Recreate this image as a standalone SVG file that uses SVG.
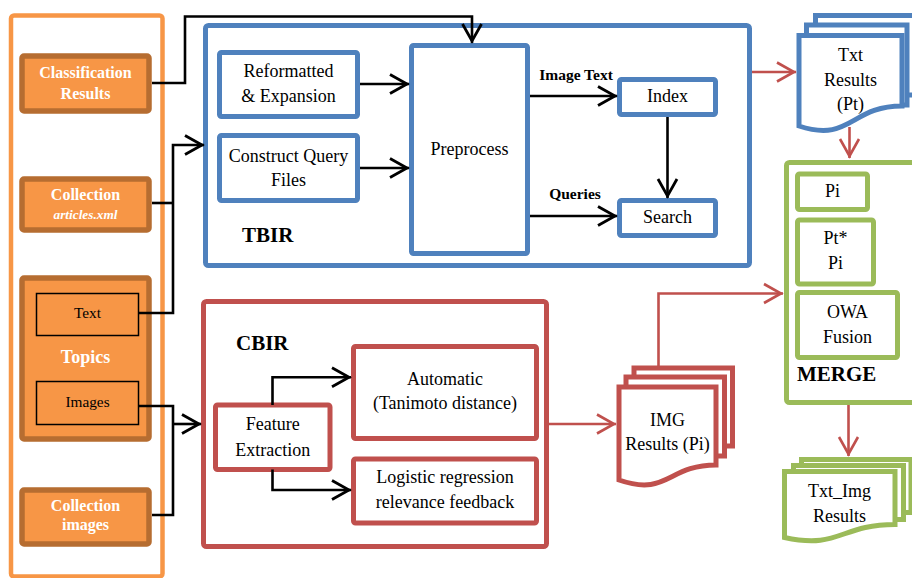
<svg xmlns="http://www.w3.org/2000/svg" width="912" height="578" viewBox="0 0 912 578">
<defs>
<style>
text{font-family:"Liberation Serif","Times New Roman",serif;font-size:18px;fill:#000;text-anchor:middle}
.w{fill:#fff;font-weight:bold;font-size:16px}
.wi{fill:#fff;font-weight:bold;font-style:italic;font-size:13.3px}
.lb{font-weight:bold;font-size:15.5px}
.big{font-weight:bold;font-size:21px;text-anchor:start}
.sm{font-size:15.3px}
.on{fill:#F79646;stroke:#B66D31;stroke-width:5.5}
.oi{fill:#F79646;stroke:#000;stroke-width:1.5}
.blue{fill:#fff;stroke:#4F81BD;stroke-width:5}
.red{fill:#fff;stroke:#C0504D;stroke-width:5}
.green{fill:#fff;stroke:#9BBB59;stroke-width:5}
.k{fill:none;stroke:#000;stroke-width:2.6}
.ka{fill:none;stroke:#000;stroke-width:2.6;marker-end:url(#ak)}
.ra{fill:none;stroke:#C0504D;stroke-width:2.6;marker-end:url(#ar)}
</style>
<marker id="ak" markerUnits="userSpaceOnUse" viewBox="-22 -12 24 24" markerWidth="24" markerHeight="24" refX="0" refY="0" orient="auto"><path d="M-19,-9.5 L-2,0 L-19,9.5" fill="none" stroke="#000" stroke-width="2.8"/></marker>
<marker id="ar" markerUnits="userSpaceOnUse" viewBox="-22 -12 24 24" markerWidth="24" markerHeight="24" refX="0" refY="0" orient="auto"><path d="M-19,-9.5 L-2,0 L-19,9.5" fill="none" stroke="#C0504D" stroke-width="2.6"/></marker>
</defs>
<rect width="912" height="578" fill="#fff"/>

<g id="inputs-panel">
<rect x="11" y="15.5" width="151.5" height="561" rx="3" fill="none" stroke="#F79646" stroke-width="4.5"/>
</g>
<g id="classification-results">
<rect class="on" x="22" y="56" width="127" height="55" rx="2"/>
<text class="w" x="85.5" y="78">Classification</text>
<text class="w" x="85.5" y="99">Results</text>
</g>
<g id="collection-articles">
<rect class="on" x="22" y="179" width="127" height="51" rx="2"/>
<text class="w" x="85.5" y="200">Collection</text>
<text class="wi" x="85.5" y="219">articles.xml</text>
</g>
<g id="topics">
<rect class="on" x="22" y="278" width="127" height="161" rx="2"/>
<text class="w" x="85.5" y="363" style="font-size:18px">Topics</text>
</g>
<g id="topics-text">
<rect class="oi" x="36.5" y="293.5" width="102" height="42"/>
<text class="sm" x="87.5" y="318">Text</text>
</g>
<g id="topics-images">
<rect class="oi" x="36.5" y="381.5" width="102" height="43"/>
<text class="sm" x="87.5" y="407">Images</text>
</g>
<g id="collection-images">
<rect class="on" x="22" y="490" width="127" height="54" rx="2"/>
<text class="w" x="85.5" y="511">Collection</text>
<text class="w" x="85.5" y="530">images</text>
</g>

<g id="tbir">
<rect class="blue" x="205.5" y="25.5" width="544" height="240" rx="3"/>
<text class="big" x="242" y="242">TBIR</text>
</g>
<g id="reformatted">
<rect class="blue" x="219.5" y="52.5" width="138" height="64" rx="2"/>
<text x="288.5" y="77">Reformatted</text>
<text x="288.5" y="102">&amp; Expansion</text>
</g>
<g id="construct-query">
<rect class="blue" x="219.5" y="135.5" width="138" height="65" rx="2"/>
<text x="288.5" y="162">Construct Query</text>
<text x="288.5" y="186">Files</text>
</g>
<g id="preprocess">
<rect class="blue" x="411.5" y="45.5" width="116" height="208" rx="2"/>
<text x="469.5" y="155">Preprocess</text>
</g>
<g id="index">
<rect class="blue" x="619.5" y="79.5" width="96" height="35" rx="2"/>
<text x="667.5" y="102">Index</text>
</g>
<g id="search">
<rect class="blue" x="619.5" y="200.5" width="96" height="35" rx="2"/>
<text x="667.5" y="223">Search</text>
</g>

<g id="cbir">
<rect class="red" x="203.5" y="301.5" width="343" height="245" rx="3"/>
<text class="big" x="236" y="350">CBIR</text>
</g>
<g id="feature-extraction">
<rect class="red" x="215.5" y="405" width="114.5" height="64.5" rx="2"/>
<text x="272.75" y="430">Feature</text>
<text x="272.75" y="456">Extraction</text>
</g>
<g id="automatic">
<rect class="red" x="353.5" y="346.5" width="183" height="92" rx="2"/>
<text x="445" y="385">Automatic</text>
<text x="445" y="409">(Tanimoto distance)</text>
</g>
<g id="logistic">
<rect class="red" x="353.5" y="459" width="183" height="64" rx="2"/>
<text x="445" y="483">Logistic regression</text>
<text x="445" y="508">relevance feedback</text>
</g>

<g id="txt-results">
<rect class="blue" x="815.5" y="15.5" width="100.5" height="79.5"/>
<rect class="blue" x="806.5" y="25" width="100.5" height="80"/>
<path class="blue" d="M799,35.5 H902 V106 C850.5,106 850.5,143 799,126 Z"/>
<text x="850.5" y="61">Txt</text>
<text x="850.5" y="86">Results</text>
<text x="850.5" y="110">(Pt)</text>
</g>
<g id="img-results">
<rect class="red" x="634" y="368" width="98.5" height="78"/>
<rect class="red" x="626" y="377" width="98.5" height="79"/>
<path class="red" d="M619,387 H716 V465 C667.5,465 667.5,497 619,480 Z"/>
<text x="667.5" y="426">IMG</text>
<text x="667.5" y="450">Results (Pi)</text>
</g>

<g id="merge">
<rect class="green" x="786.5" y="162.5" width="135" height="240" rx="3"/>
<text class="big" x="797" y="381">MERGE</text>
</g>
<g id="merge-pi">
<rect class="green" x="797.5" y="174" width="70" height="35.5" rx="2"/>
<text x="832.5" y="197">Pi</text>
</g>
<g id="merge-ptpi">
<rect class="green" x="797.5" y="220" width="76" height="64" rx="2"/>
<text x="835.5" y="244">Pt*</text>
<text x="835.5" y="269">Pi</text>
</g>
<g id="merge-owa">
<rect class="green" x="797.5" y="292.5" width="100" height="65" rx="2"/>
<text x="847.5" y="318">OWA</text>
<text x="847.5" y="343">Fusion</text>
</g>
<g id="txt-img-results">
<rect class="green" x="801.5" y="459.5" width="109.5" height="53"/>
<rect class="green" x="793.5" y="465.5" width="110" height="54"/>
<path class="green" d="M784.5,471.5 H895 V524.5 C839.75,524.5 839.75,549.5 784.5,537.5 Z"/>
<text x="839.5" y="497">Txt_Img</text>
<text x="839.5" y="522">Results</text>
</g>

<g id="connectors">
<path class="ka" d="M152,83 H185 V16.5 H472 V43"/>
<path class="k" d="M152,203 H173"/>
<path class="ka" d="M139,313 H173 V145 H204"/>
<path class="k" d="M139,406 H173 V515 H152"/>
<path class="ka" d="M173,424 H201"/>
<path class="ka" d="M360,84 H409"/>
<path class="ka" d="M360,168 H409"/>
<path class="ka" d="M530,96 H617"/>
<path class="ka" d="M530,216 H617"/>
<path class="ka" d="M667.5,117 V198"/>
<path class="ka" d="M272.5,405 V377.3 H351"/>
<path class="ka" d="M272.5,469.5 V490 H351"/>
<text class="lb" x="576" y="80">Image Text</text>
<text class="lb" x="575" y="199">Queries</text>
<path class="ra" d="M752,72 H796"/>
<path class="ra" d="M849.5,127 V158"/>
<path class="ra" d="M549,424 H616"/>
<path class="ra" d="M658.5,366 V293.5 H783"/>
<path class="ra" d="M848.5,405 V456"/>
</g>
</svg>
